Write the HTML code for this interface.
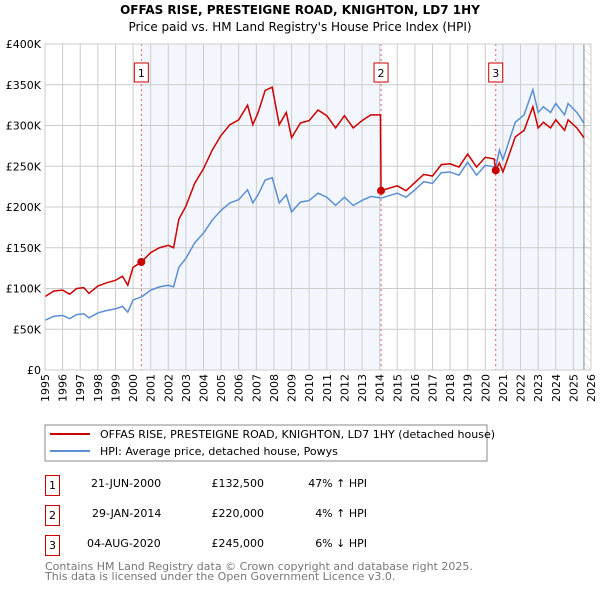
<!DOCTYPE html>
<html><head><meta charset="utf-8"><style>
body{margin:0;background:#fff;width:600px;height:590px;overflow:hidden;font-family:"DejaVu Sans","Liberation Sans",sans-serif;}
svg text{font-family:"DejaVu Sans","Liberation Sans",sans-serif;}
</style></head><body>
<svg id="c" width="600" height="590">
<defs><pattern id="hatch" width="6" height="6" patternUnits="userSpaceOnUse" patternTransform="rotate(-45)"><line x1="0" y1="0" x2="0" y2="6" stroke="#ccc" stroke-width="1"/></pattern></defs>
<text x="300" y="14" text-anchor="middle" font-size="12" font-weight="bold">OFFAS RISE, PRESTEIGNE ROAD, KNIGHTON, LD7 1HY</text>
<text x="300" y="31" text-anchor="middle" font-size="12">Price paid vs. HM Land Registry's House Price Index (HPI)</text>
<g id="plot"></g>
<rect x="45" y="425" width="442" height="36" fill="#fff" stroke="#888"/>
<line x1="50" y1="434" x2="90" y2="434" stroke="#cc0000" stroke-width="2"/>
<text x="100" y="438" font-size="11">OFFAS RISE, PRESTEIGNE ROAD, KNIGHTON, LD7 1HY (detached house)</text>
<line x1="50" y1="451" x2="90" y2="451" stroke="#5b8fd4" stroke-width="2"/>
<text x="100" y="455" font-size="11">HPI: Average price, detached house, Powys</text>
<g font-size="11">
<rect x="45.5" y="475.5" width="14" height="20" fill="#fff" stroke="#cc0000"/><text x="52.5" y="489" text-anchor="middle">1</text>
<text x="91" y="487">21-JUN-2000</text><text x="264" y="487" text-anchor="end">£132,500</text><text x="367" y="487" text-anchor="end">47% ↑ HPI</text>
<rect x="45.5" y="505.5" width="14" height="20" fill="#fff" stroke="#cc0000"/><text x="52.5" y="519" text-anchor="middle">2</text>
<text x="92" y="517">29-JAN-2014</text><text x="264" y="517" text-anchor="end">£220,000</text><text x="367" y="517" text-anchor="end">4% ↑ HPI</text>
<rect x="45.5" y="535.5" width="14" height="20" fill="#fff" stroke="#cc0000"/><text x="52.5" y="549" text-anchor="middle">3</text>
<text x="87" y="547">04-AUG-2020</text><text x="264" y="547" text-anchor="end">£245,000</text><text x="367" y="547" text-anchor="end">6% ↓ HPI</text>
</g>
<text x="45" y="570" font-size="11" fill="#777">Contains HM Land Registry data © Crown copyright and database right 2025.</text>
<text x="45" y="580" font-size="11" fill="#777">This data is licensed under the Open Government Licence v3.0.</text>
</svg>
<script>
const hpiYears=[1995.0,1995.5,1996.0,1996.4,1996.8,1997.2,1997.5,1998.0,1998.5,1999.0,1999.4,1999.7,2000.0,2000.5,2001.0,2001.5,2002.0,2002.3,2002.6,2003.0,2003.5,2004.0,2004.5,2005.0,2005.5,2006.0,2006.5,2006.8,2007.1,2007.5,2007.9,2008.3,2008.7,2009.0,2009.5,2010.0,2010.5,2011.0,2011.5,2012.0,2012.5,2013.0,2013.5,2014.1,2015.0,2015.5,2016.0,2016.5,2017.0,2017.5,2018.0,2018.5,2019.0,2019.5,2020.0,2020.6,2020.8,2021.0,2021.3,2021.7,2022.2,2022.7,2023.0,2023.3,2023.7,2024.0,2024.5,2024.7,2025.2,2025.6];
const hpiValues=[61,66,67,63,68,69,64,70,73,75,78,71,86,90,98,102,104,102,126,137,156,168,184,196,205,209,221,205,215,233,236,205,215,194,206,208,217,212,202,212,202,208,213,211,217,212,221,231,229,242,243,239,255,239,251,249,270,258,278,304,313,344,316,323,316,327,313,327,316,303];
const priceYears=[1995.0,1995.5,1996.0,1996.4,1996.8,1997.2,1997.5,1998.0,1998.5,1999.0,1999.4,1999.7,2000.0,2000.47,2001.0,2001.5,2002.0,2002.3,2002.6,2003.0,2003.5,2004.0,2004.5,2005.0,2005.5,2006.0,2006.5,2006.8,2007.1,2007.5,2007.9,2008.3,2008.7,2009.0,2009.5,2010.0,2010.5,2011.0,2011.5,2012.0,2012.5,2013.0,2013.5,2014.05,2014.08,2015.0,2015.5,2016.0,2016.5,2017.0,2017.5,2018.0,2018.5,2019.0,2019.5,2020.0,2020.5,2020.59,2020.8,2021.0,2021.3,2021.7,2022.2,2022.7,2023.0,2023.3,2023.7,2024.0,2024.5,2024.7,2025.2,2025.6];
const priceValues=[90,97,98,93,100,101,94,103,107,110,115,104,126,132.5,144,150,153,150,185,201,229,247,270,288,301,307,325,301,316,343,347,301,316,285,303,306,319,312,297,312,297,306,313,313,220,226,220,230,240,238,252,253,249,265,249,261,259,245,254,243,261,286,294,323,297,304,297,307,294,307,297,285];
const saleYears=[2000.47,2014.08,2020.59];
const salePrices=[132.5,220,245];
const saleLabels=['1','2','3'];
const yTicks=[0,50,100,150,200,250,300,350,400];
const yTickLabels=['£0','£50K','£100K','£150K','£200K','£250K','£300K','£350K','£400K'];
const xTickYears=[1995,1996,1997,1998,1999,2000,2001,2002,2003,2004,2005,2006,2007,2008,2009,2010,2011,2012,2013,2014,2015,2016,2017,2018,2019,2020,2021,2022,2023,2024,2025,2026];
const dataEnd=2025.6;

const L=45,R=591,T=44,B=370,NS='http://www.w3.org/2000/svg';
const x=v=>L+(v-1995)/31*(R-L);
const y=v=>B-v/400*(B-T);
const g=document.getElementById('plot');
function el(t,a){const e=document.createElementNS(NS,t);for(const k in a)e.setAttribute(k,a[k]);g.appendChild(e);return e;}
let e;
e=el('rect',{x:x(saleYears[0]),y:T,width:x(saleYears[1])-x(saleYears[0]),height:B-T,fill:'#eef3fc',opacity:0.7});


e=el('rect',{x:x(saleYears[2]),y:T,width:x(dataEnd)-x(saleYears[2]),height:B-T,fill:'#eef3fc',opacity:0.7});


e=el('rect',{x:x(dataEnd),y:T,width:R-x(dataEnd),height:B-T,fill:'url(#hatch)'});


yTicks.forEach((t,i)=>{
 e=el('line',{x1:L,x2:R,y1:y(t),y2:y(t),stroke:'#ccc'});
 
 
 e=el('text',{x:L-4,y:y(t)+4,'text-anchor':'end','font-size':11});e.textContent=yTickLabels[i];
 
 
});
xTickYears.forEach(t=>{
 e=el('line',{x1:x(t),x2:x(t),y1:T,y2:B,stroke:'#ccc'});
 
 
 e=el('text',{x:0,y:0,'text-anchor':'end','font-size':11,transform:'translate('+(x(t)+4)+',374) rotate(-90)'});e.textContent=t;
 
 
});
e=el('line',{x1:x(dataEnd),x2:x(dataEnd),y1:T,y2:B,stroke:'#888'});


saleYears.forEach((s,i)=>{
 e=el('line',{x1:x(s),x2:x(s),y1:T,y2:B,stroke:'#e06060','stroke-dasharray':'2,3'});
 
 
 e=el('rect',{x:x(s)-7,y:63,width:14,height:19,fill:'#fff',stroke:'#cc0000'});
 
 
 e=el('text',{x:x(s),y:77,'text-anchor':'middle','font-size':11});e.textContent=saleLabels[i];
 
 
});
e=el('polyline',{points:hpiYears.map((v,i)=>x(v)+','+y(hpiValues[i])).join(' '),fill:'none',stroke:'#5b8fd4','stroke-width':1.5});


e=el('polyline',{points:priceYears.map((v,i)=>x(v)+','+y(priceValues[i])).join(' '),fill:'none',stroke:'#cc0000','stroke-width':1.5});


saleYears.forEach((s,i)=>{
 e=el('circle',{cx:x(s),cy:y(salePrices[i]),r:4,fill:'#cc0000'});
 
 
});
e=el('rect',{x:L,y:T,width:R-L,height:B-T,fill:'none',stroke:'#ccc'});


</script>
</body></html>
